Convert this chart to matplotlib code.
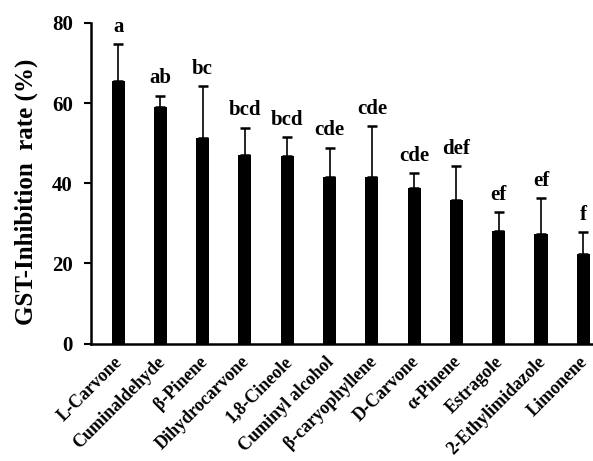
import matplotlib
matplotlib.use("Agg")
import matplotlib.pyplot as plt
import matplotlib.transforms as mtransforms
import numpy as np

compounds = [
    "L-Carvone", "Cuminaldehyde", "β-Pinene", "Dihydrocarvone", "1,8-Cineole",
    "Cuminyl alcohol", "β-caryophyllene", "D-Carvone", "α-Pinene", "Estragole",
    "2-Ethylimidazole", "Limonene",
]
inhibition = [65.5, 59.0, 51.2, 47.1, 46.8, 41.5, 41.5, 38.9, 35.7, 28.2, 27.3, 22.4]
err_upper = [9.2, 2.9, 13.0, 6.8, 4.7, 7.4, 12.7, 3.6, 8.5, 4.5, 9.0, 5.4]
letters = ["a", "ab", "bc", "bcd", "bcd", "cde", "cde", "cde", "def", "ef", "ef", "f"]

plt.rcParams["font.family"] = ["Liberation Serif", "DejaVu Serif"]
plt.rcParams["font.weight"] = "bold"

fig = plt.figure(figsize=(5.93, 4.61), dpi=100)
ax = fig.add_axes([91 / 593, 1 - 343.5 / 461, 1 - 91 / 593, 320.5 / 461])

x = np.arange(len(compounds))
ax.bar(x, inhibition, width=0.31, color="black", zorder=2)
ax.errorbar(x, inhibition, yerr=[np.zeros(len(x)), err_upper], fmt="none",
            ecolor="black", elinewidth=1.2, capsize=3.6, capthick=1.8, zorder=1)

# significance letters above the error bars
for xi, v, e, lab in zip(x, inhibition, err_upper, letters):
    ax.text(xi, v + e + 1.8, lab, ha="center", va="bottom",
            fontsize=15, fontweight="bold")

ax.set_xlim(-0.64, 11.23)
ax.set_ylim(0, 80)
ax.set_yticks([0, 20, 40, 60, 80])
ax.tick_params(axis="y", direction="out", length=5, width=1.5, labelsize=15, pad=8)
ax.tick_params(axis="x", length=0, labelsize=13, pad=7)
ax.set_xticks(x)
ax.set_xticklabels(compounds, rotation=45, ha="right", rotation_mode="anchor",
                   fontweight="bold")
shift = mtransforms.ScaledTranslation(-4 / 100, 0, fig.dpi_scale_trans)
for t in ax.get_xticklabels():
    t.set_transform(t.get_transform() + shift)
for t in ax.get_yticklabels():
    t.set_fontweight("bold")

for side in ["top", "right"]:
    ax.spines[side].set_visible(False)
for side in ["left", "bottom"]:
    ax.spines[side].set_linewidth(1.8)

ax.set_ylabel("GST-Inhibition  rate (%)", fontsize=18, fontweight="bold")
ax.yaxis.set_label_coords(-0.106, 0.473)

fig.savefig("out.png", dpi=100)
